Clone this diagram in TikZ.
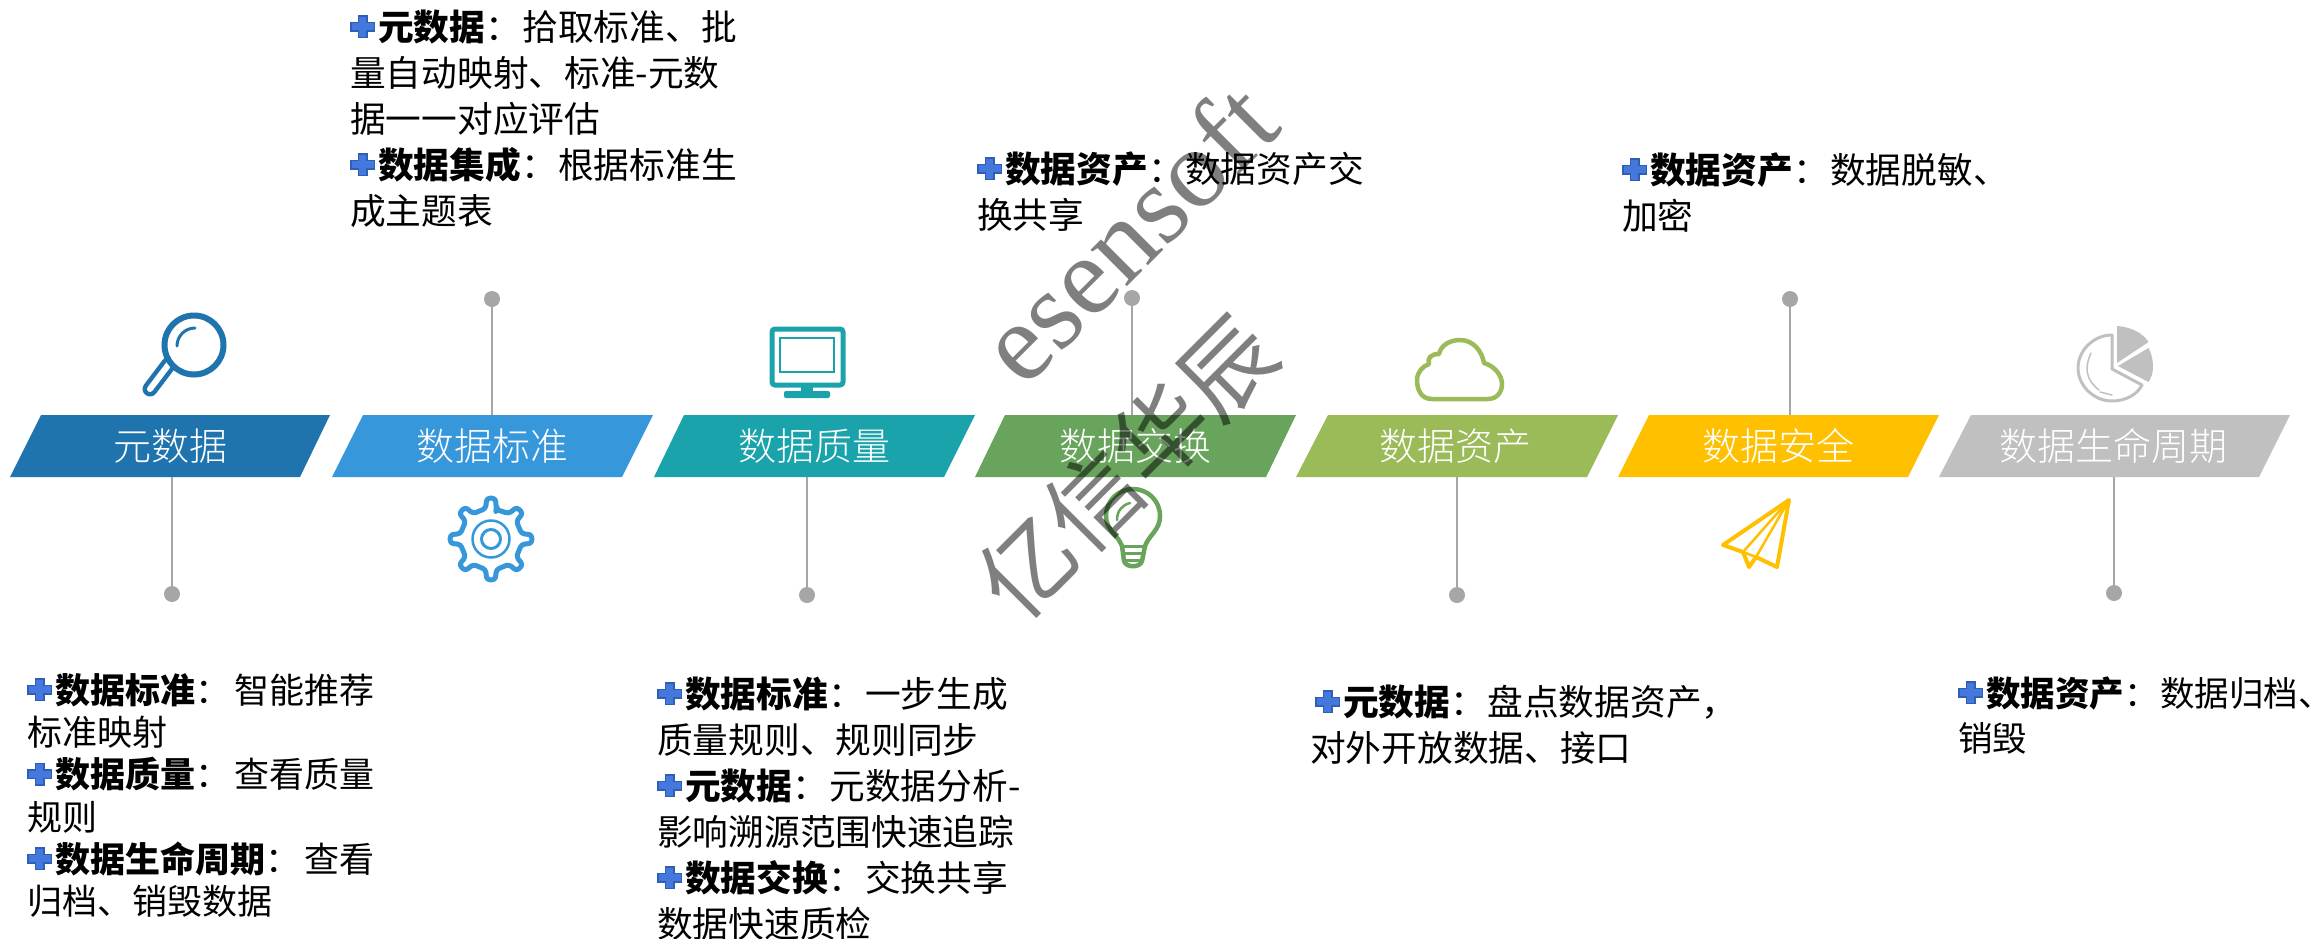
\documentclass[tikz,border=0pt]{standalone}
\usepackage{fontspec}
\setmainfont{Noto Sans CJK SC}
\newfontfamily\barfont{Noto Sans CJK SC Light}
\newfontfamily\wmlatin{Liberation Serif}
\newfontfamily\wmcjk{Noto Sans CJK SC}
\definecolor{cA}{HTML}{1F74AD}
\definecolor{cB}{HTML}{3797DB}
\definecolor{cC}{HTML}{1AA3AB}
\definecolor{cD}{HTML}{69A45C}
\definecolor{cE}{HTML}{9BBB59}
\definecolor{cF}{HTML}{FFC000}
\definecolor{cG}{HTML}{C0C0C0}
\definecolor{plusd}{HTML}{2F5FB5}
\definecolor{plusl}{HTML}{4478DC}
\definecolor{conn}{HTML}{A6A6A6}
\newcommand\plusicon{\hbox to 28pt{\rule{0pt}{34pt}%
\rlap{\color{plusd}\raisebox{8.5pt}{\rule{25pt}{10pt}}}%
\rlap{\color{plusd}\hspace{7.5pt}\raisebox{2pt}{\rule{10pt}{23pt}}}%
\rlap{\color{plusl}\hspace{1.5pt}\raisebox{10pt}{\rule{22pt}{7pt}}}%
\rlap{\color{plusl}\hspace{9pt}\raisebox{3.5pt}{\rule{7pt}{20pt}}}%
\hss}}
\newcommand\lead[1]{\plusicon\textbf{#1}：\hspace{1.5pt}}
\tikzset{
  x=1pt,y=-1pt,
  barlabel/.style={text=white,font=\fontsize{38}{44}\selectfont\barfont,minimum width=260pt,minimum height=62pt,inner sep=0pt,anchor=center},
  dotmark/.style={circle,fill=conn,minimum size=16pt,inner sep=0pt},
  connline/.style={draw=conn,line width=2.8pt},
  block/.style={anchor=north west,inner sep=0pt,align=left,text=black,font=\fontsize{35.7}{46}\selectfont},
  blocksmall/.style={anchor=north west,inner sep=0pt,align=left,text=black,font=\fontsize{35}{42.3}\selectfont},
  blocknarrow/.style={anchor=north west,inner sep=0pt,align=left,text=black,font=\fontsize{34.5}{45}\selectfont},
  wm/.style={rotate=45,text=black,text opacity=0.5,inner sep=0pt,anchor=center},
  icon/.style={line width=#1,line join=round,line cap=round},
}
\begin{document}
\begin{tikzpicture}
\useasboundingbox (0,0) rectangle (2323,938);
\fill[white] (0,0) rectangle (2323,938);
% bars
\fill[cA] (10,477) -- (41,415) -- (330,415) -- (300,477) -- cycle;
\fill[cB] (332,477) -- (363,415) -- (653,415) -- (622,477) -- cycle;
\fill[cC] (654,477) -- (684,415) -- (975,415) -- (944,477) -- cycle;
\fill[cD] (975,477) -- (1005,415) -- (1296,415) -- (1266,477) -- cycle;
\fill[cE] (1296,477) -- (1328,415) -- (1618,415) -- (1587,477) -- cycle;
\fill[cF] (1618,477) -- (1649,415) -- (1939,415) -- (1908,477) -- cycle;
\fill[cG] (1939,477) -- (1971,415) -- (2290,415) -- (2259,477) -- cycle;
\node[barlabel] (b1) at (170,446) {元数据};
\node[barlabel] (b2) at (492,446) {数据标准};
\node[barlabel] (b3) at (814,446) {数据质量};
\node[barlabel] (b4) at (1135,446) {数据交换};
\node[barlabel] (b5) at (1455,446) {数据资产};
\node[barlabel] (b6) at (1778,446) {数据安全};
\node[barlabel] (b7) at (2113,446) {数据生命周期};
% dots and connectors
\node[dotmark] (d1) at (172,594) {};
\node[dotmark] (d2) at (492,299) {};
\node[dotmark] (d3) at (807,595) {};
\node[dotmark] (d4) at (1132,298) {};
\node[dotmark] (d5) at (1457,595) {};
\node[dotmark] (d6) at (1790,299) {};
\node[dotmark] (d7) at (2114,593) {};
\draw[connline] (d1) -- (d1 |- b1.south);
\draw[connline] (d2) -- (d2 |- b2.north);
\draw[connline] (d3) -- (d3 |- b3.south);
\draw[connline] (d4) -- (d4 |- b4.north);
\draw[connline] (d5) -- (d5 |- b5.south);
\draw[connline] (d6) -- (d6 |- b6.north);
\draw[connline] (d7) -- (d7 |- b7.south);
% text blocks
\node[blocksmall] (t1) at (27,669) {\lead{数据标准}\hspace{2.5pt}智能推荐\\标准映射\\\lead{数据质量}\hspace{2.5pt}查看质量\\规则\\\lead{数据生命周期}\hspace{2.5pt}查看\\归档、销毁数据};
\node[block] (t2) at (350,6) {\lead{元数据}拾取标准、批\\量自动映射、标准-元数\\据一一对应评估\\\lead{数据集成}根据标准生\\成主题表};
\node[block] (t3) at (657,673) {\lead{数据标准}一步生成\\质量规则、规则同步\\\lead{元数据}元数据分析-\\影响溯源范围快速追踪\\\lead{数据交换}交换共享\\数据快速质检};
\node[block] (t4) at (977,148) {\lead{数据资产}数据资产交\\换共享};
\node[block] (t5) at (1310,681) {\hspace*{5pt}\lead{元数据}盘点数据资产，\\对外开放数据、接口};
\node[block] (t6) at (1622,149) {\lead{数据资产}数据脱敏、\\加密};
\node[blocknarrow] (t7) at (1958,672) {\lead{数据资产}数据归档、\\销毁};
% icons
% magnifier
\draw[cA,line width=15pt,line cap=round] (169,364) -- (150,389);
\draw[white,line width=6pt,line cap=round] (169,364) -- (150,389);
\draw[cA,line width=6pt,fill=white] (194,345) circle[radius=29.5pt];
\draw[cA,icon=3pt] (195,328) .. controls (185,328) and (177,336) .. (177,346);
% gear
\begin{scope}[shift={(491,539)}]
\draw[cB,line width=5pt,line join=round,rounded corners=3pt]
  (90-10:30pt) \foreach \a in {0,45,...,315}{
    -- (\a+90-10:31pt) -- (\a+90-6:41pt) -- (\a+90+6:41pt) -- (\a+90+10:31pt)
  } -- cycle;
\draw[cB,line width=2.5pt] (0,0) circle[radius=18.5pt];
\draw[cB,line width=3pt] (0,0) circle[radius=9.5pt];
\end{scope}
% monitor
\draw[cC,line width=5pt,rounded corners=3pt] (772,329) rectangle (843,385);
\draw[cC,line width=2.5pt] (780,338) rectangle (834,372);
\fill[cC] (801,387) rectangle (813,393);
\fill[cC,rounded corners=2pt] (784,391) rectangle (830,398);
% bulb
\draw[cD,icon=4.5pt] (1122,546) .. controls (1118,535) and (1106,530) .. (1106,516) .. controls (1106,500) and (1119,489) .. (1133,489) .. controls (1147,489) and (1160,500) .. (1160,516) .. controls (1160,530) and (1149,535) .. (1145,546) -- (1142,561) .. controls (1140,568) and (1126,568) .. (1124,561) -- cycle;
\draw[cD,icon=3pt] (1122,546) -- (1145,546) (1124,553) -- (1143,553) (1125,560) -- (1141,560);
\draw[cD,icon=2.5pt] (1117,520) .. controls (1117,511) and (1122,505) .. (1130,503);
% cloud
\draw[cE,icon=4.5pt] (1432,399) .. controls (1420,399) and (1417,388) .. (1417,380) .. controls (1417,372) and (1423,366) .. (1429,364) .. controls (1427,358) and (1431,354) .. (1439,354) .. controls (1441,345) and (1450,340) .. (1460,340) .. controls (1474,340) and (1482,352) .. (1484,363) .. controls (1495,366) and (1502,376) .. (1502,384) .. controls (1502,392) and (1497,399) .. (1488,399) -- cycle;
% paper plane
\draw[cF,icon=4pt] (1789,500) -- (1723,545) -- (1743,552) -- (1749,567) -- (1756,557) -- (1777,567) -- cycle;
\draw[cF,icon=2.5pt] (1789,500) -- (1743,552) (1789,500) -- (1756,557) (1743,552) -- (1756,557);
% pie
\draw[cG,icon=3pt] (2112,335) .. controls (2094,335) and (2078,350) .. (2078,368) .. controls (2078,386) and (2094,401) .. (2112,401) .. controls (2125,401) and (2137,395) .. (2142,385) -- (2112,369) -- cycle;
\fill[cG] (2117,363) -- (2117,326) .. controls (2131,327) and (2143,333) .. (2148.5,342) -- cycle;
\fill[cG] (2118,366) -- (2148.5,348) .. controls (2152,354) and (2153,361) .. (2153,368) .. controls (2153,373) and (2151,378) .. (2148.5,382) -- cycle;
\draw[cG,icon=1.5pt] (2091,353) .. controls (2084,368) and (2086,380) .. (2099,390) (2100,392) -- (2112,395);
% watermark
\node[wm,font=\fontsize{112}{112}\selectfont\wmlatin] (w1) at (1127,232) {esensoft};
\node[wm,font=\fontsize{94}{94}\selectfont\wmcjk] (w2) at (1127,467) {亿信华辰};
\end{tikzpicture}
\end{document}
